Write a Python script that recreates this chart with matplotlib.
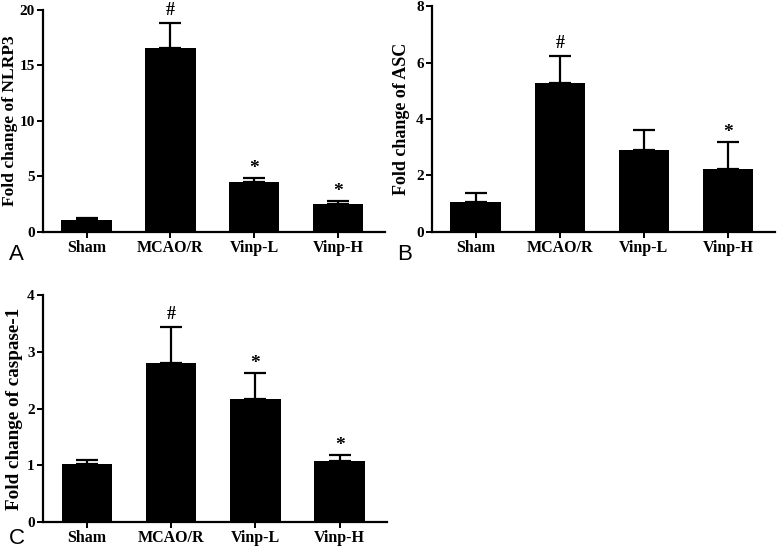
import matplotlib
matplotlib.use("Agg")
import matplotlib.pyplot as plt
import numpy as np

categories = ["Sham", "MCAO/R", "Vinp-L", "Vinp-H"]

nlrp3_mean = [1.11, 16.6, 4.5, 2.52]
nlrp3_err = [0.15, 2.23, 0.36, 0.24]
nlrp3_marks = ["", "#", "*", "*"]

asc_mean = [1.06, 5.29, 2.91, 2.23]
asc_err = [0.32, 0.95, 0.71, 0.94]
asc_marks = ["", "#", "", "*"]

casp_mean = [1.03, 2.81, 2.16, 1.08]
casp_err = [0.07, 0.63, 0.46, 0.10]
casp_marks = ["", "#", "*", "*"]

panels = [
    ("A", nlrp3_mean, nlrp3_err, nlrp3_marks, "Fold change of NLRP3", [0, 5, 10, 15, 20]),
    ("B", asc_mean, asc_err, asc_marks, "Fold change of ASC", [0, 2, 4, 6, 8]),
    ("C", casp_mean, casp_err, casp_marks, "Fold change of caspase-1", [0, 1, 2, 3, 4]),
]

W, H = 777, 548
fig = plt.figure(figsize=(W / 100, H / 100), dpi=100)

# axes rectangles in pixel coords: left, right, top, bottom
rects = [
    (43, 385, 10, 232),
    (432, 775, 6, 232),
    (43, 387, 295, 522),
]
letter_pos = [(9, 260), (397, 260), (9, 544)]
ylabel_right = [18, 410, 23]
ylabel_size = [12.6, 13.0, 13.8]

serif = "Liberation Serif"

for (letter, mean, err, marks, ylabel, yticks), (l, r, t, b), (lx, ly), yr, ys in zip(
        panels, rects, letter_pos, ylabel_right, ylabel_size):
    ax = fig.add_axes([l / W, 1 - b / H, (r - l) / W, (b - t) / H])
    x = np.arange(len(categories))
    ax.bar(x, mean, width=0.6, color="black", zorder=2)
    ax.errorbar(x, mean, yerr=[np.zeros(len(err)), err], fmt="none",
                ecolor="black", elinewidth=1.6, capsize=8, capthick=1.6, zorder=1)
    for xi, m, e, s in zip(x, mean, err, marks):
        if s:
            ax.annotate(s, (xi, m + e), xytext=(0, 3 if s == "#" else 1),
                        textcoords="offset points", ha="center", va="bottom",
                        fontsize=13 if s == "#" else 14, fontweight="bold",
                        family=serif)
    ax.set_xlim(-0.52, 3.56)
    ax.set_ylim(yticks[0], yticks[-1])
    ax.set_yticks(yticks)
    ax.set_xticks(x)
    ax.set_xticklabels(categories)
    for sp in ["top", "right"]:
        ax.spines[sp].set_visible(False)
    for sp in ["left", "bottom"]:
        ax.spines[sp].set_linewidth(1.6)
    ax.tick_params(axis="both", width=1.4, length=4, pad=2)
    ax.tick_params(axis="y", labelsize=11)
    ax.tick_params(axis="x", labelsize=11.5, pad=2)
    for lab in ax.get_xticklabels() + ax.get_yticklabels():
        lab.set_fontfamily(serif)
        lab.set_fontweight("bold")
    ax.set_ylabel(ylabel, fontsize=ys, fontweight="bold", family=serif)
    ax.yaxis.set_label_coords((yr - l) / (r - l), 0.5)
    fig.text(lx / W, 1 - ly / H, letter, fontsize=16, family="Liberation Sans",
             ha="left", va="baseline")

fig.savefig("out.png", dpi=100)
